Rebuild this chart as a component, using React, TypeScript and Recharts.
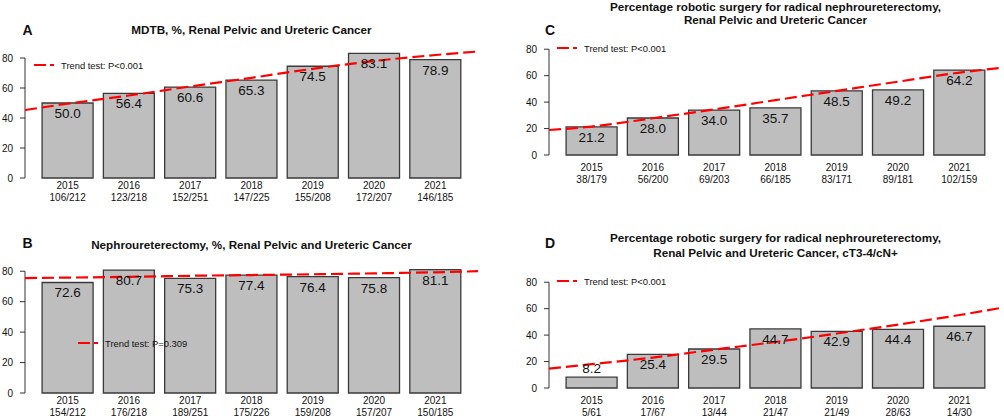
import React from "react";
import { ComposedChart, Bar, Line, XAxis, YAxis, ReferenceLine, LabelList } from "recharts";

const FONT = "'Liberation Sans', Arial, Helvetica, sans-serif";
const C = {
  bar: "#bebebe",
  edge: "#3a3a3a",
  axis: "#333333",
  red: "#ff0000",
  ink: "#111111",
} as const;

const years = ["2015", "2016", "2017", "2018", "2019", "2020", "2021"];
const trendAt = [2014.31, 2015, 2016, 2017, 2018, 2019, 2020, 2021, 2021.69];
const yTicks = [0, 20, 40, 60, 80];

// A: MDTB
const mdtbPct = [50.0, 56.4, 60.6, 65.3, 74.5, 83.1, 78.9];
const mdtbN = ["106/212", "123/218", "152/251", "147/225", "155/208", "172/207", "146/185"];
const mdtbTrend = [45.3, 49.5, 55, 61, 66.8, 72.8, 78, 82, 84.3];

// B: nephroureterectomy
const nephPct = [72.6, 80.7, 75.3, 77.4, 76.4, 75.8, 81.1];
const nephN = ["154/212", "176/218", "189/251", "175/226", "159/208", "157/207", "150/185"];
const nephTrend = [75.5, 75.8, 76.3, 77, 77.5, 78, 78.6, 79.3, 80];

// C: robotic surgery
const robotPct = [21.2, 28.0, 34.0, 35.7, 48.5, 49.2, 64.2];
const robotN = ["38/179", "56/200", "69/203", "66/185", "83/171", "89/181", "102/159"];
const robotTrend = [18.9, 21.5, 27.8, 34.5, 41.5, 48.5, 55.5, 62.3, 66];

// D: robotic surgery, cT3-4/cN+
const advPct = [8.2, 25.4, 29.5, 44.7, 42.9, 44.4, 46.7];
const advN = ["5/61", "17/67", "13/44", "21/47", "21/49", "28/63", "14/30"];
const advTrend = [14.7, 18, 23, 29, 34.8, 41.2, 48, 55.2, 60.7];

type PanelProps = {
  pct: number[];
  counts: string[];
  trend: number[];
  left: number;
  top: number;
  width: number;
  height: number;
  plotTop: number;
  axisW: number;
  rightM: number;
  xAxisH: number;
  tickGap: number;
  letter: string;
  letterX: number;
  letterY: number;
  title: string[];
  titleY: number[];
  legendX: number;
  legendY: number;
  legendText: string;
};

function ValueLabel(props: any) {
  const { x, y, width, height, value } = props;
  const cy = height > 20 ? y + 10.5 : y - 9;
  return (
    <text x={x + width / 2} y={cy} textAnchor="middle" dominantBaseline="central"
      fontFamily={FONT} fontSize={13.5} fill={C.ink}>
      {Number(value).toFixed(1)}
    </text>
  );
}

function Panel(p: PanelProps) {
  const data = years.map((year, i) => ({ year, pct: p.pct[i] }));
  const trendData = trendAt.map((x, i) => ({ x, v: p.trend[i] }));
  const plotMid = p.axisW + (p.width - p.axisW - p.rightM) / 2;

  const renderTick = (tp: any) => {
    const { x, y, payload } = tp;
    const n = p.counts[years.indexOf(payload.value)];
    return (
      <g fontFamily={FONT} fontSize={10} fill={C.ink}>
        <text x={x} y={y + p.tickGap} textAnchor="middle" dominantBaseline="central">{payload.value}</text>
        <text x={x} y={y + p.tickGap + 12} textAnchor="middle" dominantBaseline="central">{n}</text>
      </g>
    );
  };

  return (
    <div style={{ position: "absolute", left: p.left, top: p.top, width: p.width, height: p.height }}>
      <ComposedChart width={p.width} height={p.height} data={data} barCategoryGap="8.3%"
        margin={{ top: p.plotTop, right: p.rightM, bottom: 0, left: 0 }}>
        <XAxis xAxisId="cat" dataKey="year" type="category" padding={{ left: 12, right: 12 }}
          axisLine={false} tickLine={false} tickSize={0} tickMargin={0} height={p.xAxisH}
          interval={0} tick={renderTick} />
        <XAxis xAxisId="trend" dataKey="x" type="number" domain={[trendAt[0], trendAt[trendAt.length - 1]]}
          allowDataOverflow hide />
        <YAxis domain={[0, 90]} ticks={yTicks} width={p.axisW} axisLine={false}
          tickLine={{ stroke: C.axis }} tickSize={5} tickMargin={7} interval={0}
          tick={{ fontFamily: FONT, fontSize: 10, fill: C.ink }} />
        <ReferenceLine xAxisId="trend" ifOverflow="visible" stroke={C.axis} strokeWidth={1}
          segment={[{ x: trendAt[0], y: 0 }, { x: trendAt[0], y: 80 }]} />
        <Bar xAxisId="cat" dataKey="pct" fill={C.bar} stroke={C.edge} strokeWidth={1.3} isAnimationActive={false}>
          <LabelList dataKey="pct" content={ValueLabel} />
        </Bar>
        <Line xAxisId="trend" data={trendData} dataKey="v" type="monotone" stroke={C.red} strokeWidth={2.2}
          strokeDasharray="12 5" dot={false} activeDot={false} isAnimationActive={false} />
      </ComposedChart>

      <div style={{ position: "absolute", left: p.letterX - 10, top: p.letterY - 9, width: 20, height: 18,
        lineHeight: "18px", textAlign: "center", fontFamily: FONT, fontWeight: 700, fontSize: 14, color: C.ink }}>
        {p.letter}
      </div>

      {p.title.map((t, i) => (
        <div key={i} style={{ position: "absolute", left: plotMid - 250, top: p.titleY[i] - 7, width: 500,
          height: 14, lineHeight: "14px", textAlign: "center", fontFamily: FONT, fontWeight: 700,
          fontSize: 11.7, color: C.ink, whiteSpace: "nowrap" }}>
          {t}
        </div>
      ))}

      <div style={{ position: "absolute", left: p.legendX, top: p.legendY - 7, height: 14, display: "flex",
        alignItems: "center", fontFamily: FONT, fontSize: 9.4, color: C.ink, whiteSpace: "nowrap" }}>
        <svg width={20} height={6} style={{ display: "block" }}>
          <line x1={0} y1={3} x2={20} y2={3} stroke={C.red} strokeWidth={2.2} strokeDasharray="12 4" />
        </svg>
        <span style={{ marginLeft: 7 }}>{p.legendText}</span>
      </div>
    </div>
  );
}

export default function App() {
  return (
    <div style={{ position: "absolute", left: 0, top: 0, width: 1004, height: 418, background: "#fff", overflow: "hidden" }}>
      <Panel pct={mdtbPct} counts={mdtbN} trend={mdtbTrend}
        left={0} top={0} width={500} height={205} plotTop={43} axisW={25} rightM={22} xAxisH={27} tickGap={7}
        letter="A" letterX={27.5} letterY={30}
        title={["MDTB, %, Renal Pelvic and Ureteric Cancer"]} titleY={[30]}
        legendX={34} legendY={65} legendText="Trend test: P<0.001" />
      <Panel pct={nephPct} counts={nephN} trend={nephTrend}
        left={0} top={205} width={500} height={213} plotTop={51} axisW={25} rightM={22} xAxisH={25} tickGap={7}
        letter="B" letterX={27.5} letterY={38}
        title={["Nephroureterectomy, %, Renal Pelvic and Ureteric Cancer"]} titleY={[40]}
        legendX={78} legendY={138} legendText="Trend test: P=0.309" />
      <Panel pct={robotPct} counts={robotN} trend={robotTrend}
        left={500} top={0} width={504} height={205} plotTop={36} axisW={49} rightM={2} xAxisH={50} tickGap={12}
        letter="C" letterX={50} letterY={30}
        title={["Percentage robotic surgery for radical nephroureterectomy,", "Renal Pelvic and Ureteric Cancer"]}
        titleY={[7, 20]}
        legendX={57} legendY={48} legendText="Trend test: P<0.001" />
      <Panel pct={advPct} counts={advN} trend={advTrend}
        left={500} top={205} width={504} height={213} plotTop={64} axisW={49} rightM={2} xAxisH={30} tickGap={12}
        letter="D" letterX={50} letterY={38}
        title={["Percentage robotic surgery for radical nephroureterectomy,", "Renal Pelvic and Ureteric Cancer, cT3-4/cN+"]}
        titleY={[33, 48]}
        legendX={57} legendY={76} legendText="Trend test: P<0.001" />
    </div>
  );
}
